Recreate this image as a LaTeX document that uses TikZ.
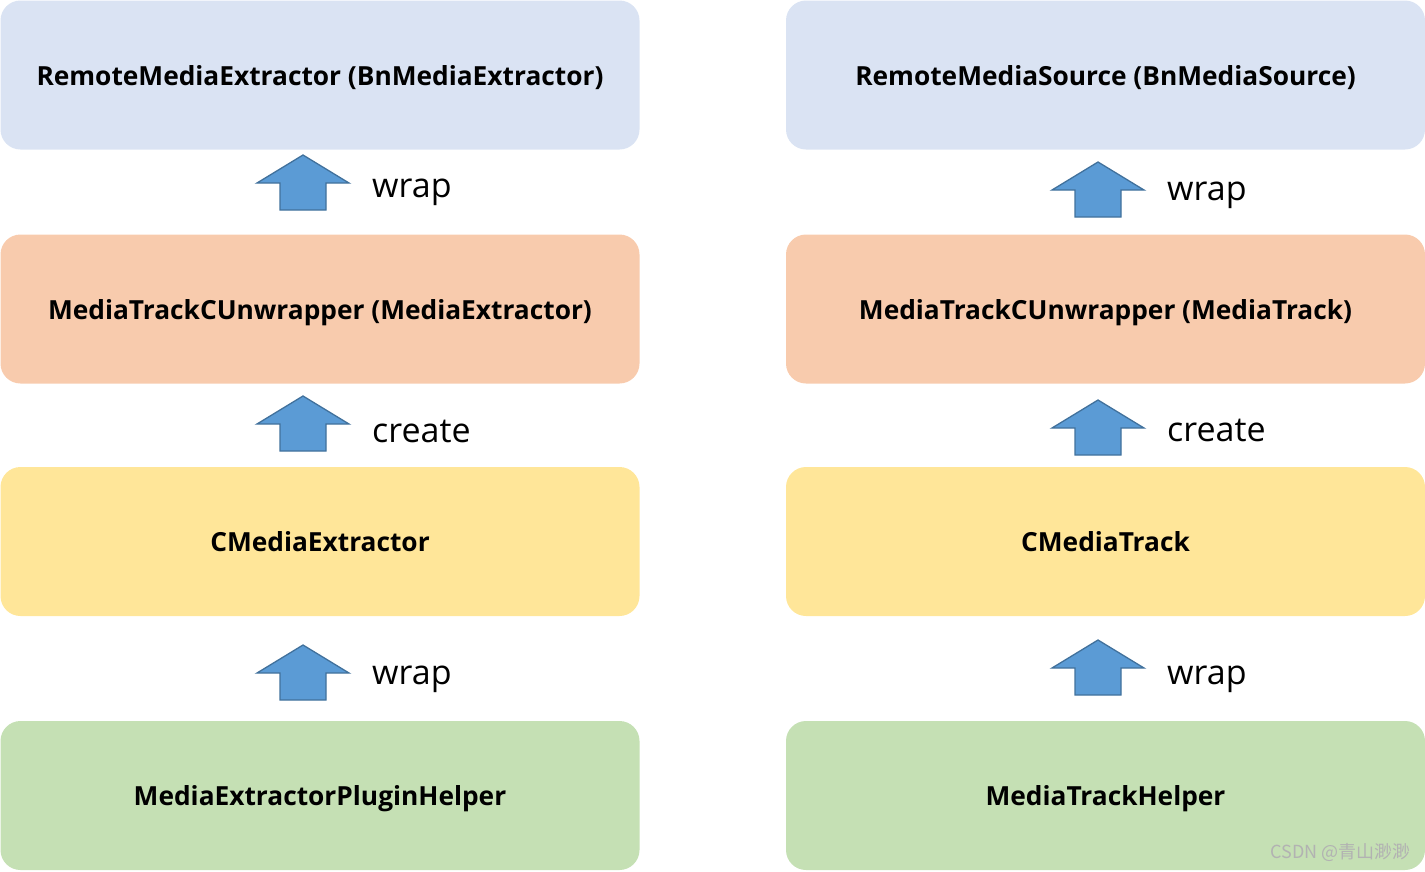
\documentclass[tikz,border=0pt]{standalone}
\usepackage{fontspec}
\setmainfont{Open Sans}
\newfontfamily\cjk{Noto Sans CJK SC}
\definecolor{boxblue}{HTML}{DAE3F3}
\definecolor{boxorange}{HTML}{F8CBAD}
\definecolor{boxyellow}{HTML}{FFE699}
\definecolor{boxgreen}{HTML}{C5E0B4}
\definecolor{arrfill}{HTML}{5B9BD5}
\definecolor{arrline}{HTML}{41719C}
\tikzstyle{layer} = [rectangle, rounded corners=20pt, minimum width=639pt, minimum height=149pt,
  inner sep=0pt, text height=24pt, text depth=3.4pt, font=\fontsize{26.3}{30}\selectfont\bfseries]
\tikzstyle{verb} = [anchor=west, inner sep=0pt, font=\fontsize{34}{39}\selectfont]
% block arrow pointing up, tip at #1
\newcommand{\uparr}[1]{\draw [fill=arrfill, draw=arrline, line width=1.3pt]
  (#1) -- ++(46,28) -- ++(-23,0) -- ++(0,27) -- ++(-46,0) -- ++(0,-27) -- ++(-23,0) -- cycle;}

\begin{document}
\begin{tikzpicture}[x=1pt, y=-1pt]
	\useasboundingbox (0,0) rectangle (1425,871);
	% left column
	\node [layer, fill=boxblue] (rme) at (320,75) {RemoteMediaExtractor (BnMediaExtractor)};
	\node [layer, fill=boxorange] (mte) at (320,309) {MediaTrackCUnwrapper (MediaExtractor)};
	\node [layer, fill=boxyellow] (cme) at (320,541.5) {CMediaExtractor};
	\node [layer, fill=boxgreen] (mep) at (320,795.5) {MediaExtractorPluginHelper};
	% right column
	\node [layer, fill=boxblue] (rms) at (1105.5,75) {RemoteMediaSource (BnMediaSource)};
	\node [layer, fill=boxorange] (mtt) at (1105.5,309) {MediaTrackCUnwrapper (MediaTrack)};
	\node [layer, fill=boxyellow] (cmt) at (1105.5,541.5) {CMediaTrack};
	\node [layer, fill=boxgreen] (mth) at (1105.5,795.5) {MediaTrackHelper};
	% arrows
	\coordinate (la1) at (303,155);
	\coordinate (la2) at (303,396);
	\coordinate (la3) at (303,645);
	\coordinate (ra1) at (1098,162);
	\coordinate (ra2) at (1098,400);
	\coordinate (ra3) at (1098,640);
	\uparr{la1} \uparr{la2} \uparr{la3}
	\uparr{ra1} \uparr{ra2} \uparr{ra3}
	\node [verb] (lw1) at (372,192) {wrap};
	\node [verb] (lc) at (372,431) {create};
	\node [verb] (lw2) at (372,679) {wrap};
	\node [verb] (rw1) at (1167,195) {wrap};
	\node [verb] (rc) at (1167,430) {create};
	\node [verb] (rw2) at (1167,679) {wrap};
	% watermark
	\node [anchor=east, inner sep=0pt, text=gray!60, font=\fontsize{18}{20}\selectfont\cjk] (wm) at (1411,852) {CSDN @青山渺渺};
\end{tikzpicture}
\end{document}
